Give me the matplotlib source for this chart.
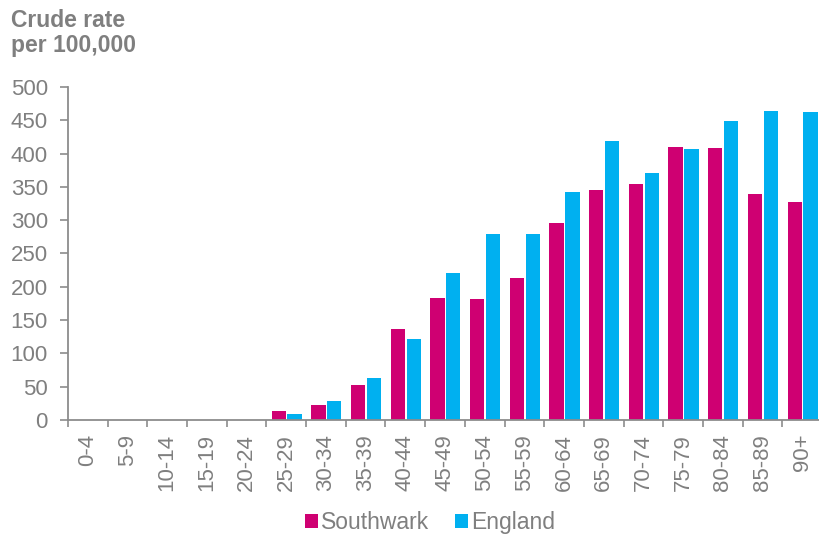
import matplotlib
matplotlib.use("Agg")
import matplotlib.pyplot as plt
import numpy as np

# Crude rate per 100,000 by age band
age_bands = ["0-4", "5-9", "10-14", "15-19", "20-24", "25-29", "30-34", "35-39",
             "40-44", "45-49", "50-54", "55-59", "60-64", "65-69", "70-74",
             "75-79", "80-84", "85-89", "90+"]
southwark = [0, 0, 0, 0, 0, 13, 23, 53, 137, 183, 182, 213, 296, 346, 355, 410, 409, 339, 327]
england = [0, 0, 0, 0, 0, 9, 29, 63, 122, 221, 279, 279, 343, 419, 371, 407, 449, 464, 462]

grey = "#7f7f7f"
axis_grey = "#8c8c8c"
pink = "#CF0072"
blue = "#00B0F0"

plt.rcParams["font.family"] = ["Liberation Sans", "DejaVu Sans"]

fig = plt.figure(figsize=(8.19, 5.37), dpi=100)
ax = fig.add_axes([0.083, 0.218, 0.9207, 0.620])

x = np.arange(len(age_bands))
ax.bar(x - 0.19, southwark, width=0.36, color=pink, label="Southwark")
ax.bar(x + 0.21, england, width=0.36, color=blue, label="England")

ax.set_xlim(-0.5, len(age_bands) - 0.5)
ax.set_ylim(0, 500)
ax.set_yticks(range(0, 501, 50))

# labels in the middle of each band, tick marks on the band edges
ax.set_xticks(x)
ax.set_xticklabels(age_bands, rotation=90)
ax.set_xticks(np.arange(-0.5, len(age_bands) + 0.5, 1), minor=True)
ax.tick_params(axis="x", which="major", length=0, pad=10, labelsize=16, labelcolor=grey)
ax.tick_params(axis="x", which="minor", length=5, width=1.2, color=axis_grey, direction="out")
ax.tick_params(axis="y", length=5.5, width=1.2, color=axis_grey, labelsize=16,
               labelcolor=grey, pad=9)

for s in ["top", "right"]:
    ax.spines[s].set_visible(False)
for s in ["left", "bottom"]:
    ax.spines[s].set_color(axis_grey)
    ax.spines[s].set_linewidth(1.3)

fig.text(0.014, 0.984, "Crude rate\nper 100,000", ha="left", va="top",
         fontsize=16.5, fontweight="bold", color=grey, linespacing=1.15)

handles, labels = ax.get_legend_handles_labels()
fig.legend(handles, labels, loc="lower center", bbox_to_anchor=(0.525, -0.033), ncol=2,
           frameon=False, fontsize=16.5, labelcolor=grey, handlelength=0.57,
           handleheight=0.57, handletextpad=0.15, columnspacing=1.1)

fig.savefig("out.png", dpi=100)
